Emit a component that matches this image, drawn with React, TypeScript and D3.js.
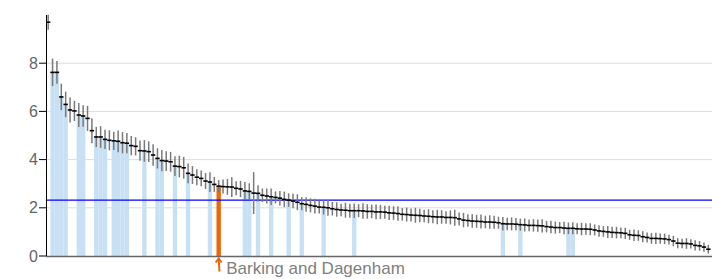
import * as d3 from 'd3'

// ranked rate per area
const values = [
  9.70,
  7.62, 7.62, 6.60, 6.29, 6.06, 6.02, 5.85, 5.81, 5.71, 5.20,
  4.94, 4.94, 4.84, 4.80, 4.78, 4.76, 4.70, 4.68, 4.58, 4.55,
  4.37, 4.36, 4.33, 4.19, 4.05, 3.96, 3.94, 3.91, 3.73, 3.71,
  3.66, 3.43, 3.36, 3.27, 3.22, 3.11, 3.07, 2.97, 2.90, 2.88,
  2.87, 2.86, 2.81, 2.78, 2.70, 2.68, 2.61, 2.60, 2.52, 2.49,
  2.46, 2.43, 2.40, 2.35, 2.32, 2.28, 2.23, 2.17, 2.14, 2.10,
  2.07, 2.03, 2.02, 2.00, 1.96, 1.93, 1.91, 1.90, 1.88, 1.88,
  1.88, 1.87, 1.85, 1.85, 1.83, 1.83, 1.82, 1.79, 1.78, 1.76,
  1.73, 1.72, 1.70, 1.69, 1.68, 1.66, 1.65, 1.63, 1.62, 1.62,
  1.60, 1.60, 1.59, 1.54, 1.49, 1.47, 1.45, 1.44, 1.43, 1.41,
  1.41, 1.40, 1.38, 1.34, 1.33, 1.33, 1.32, 1.30, 1.29, 1.27,
  1.27, 1.26, 1.25, 1.22, 1.20, 1.18, 1.18, 1.16, 1.15, 1.15,
  1.13, 1.12, 1.12, 1.11, 1.08, 1.04, 1.02, 1.00, 0.98, 0.97,
  0.96, 0.94, 0.88, 0.86, 0.85, 0.80, 0.77, 0.73, 0.73, 0.72,
  0.71, 0.68, 0.62, 0.53, 0.52, 0.52, 0.50, 0.44, 0.42, 0.37,
  0.28,
]

// half width of the confidence interval
const errors = [
  0.31,
  0.57, 0.47, 0.55, 0.53, 0.52, 0.42, 0.50, 0.45, 0.52, 0.52,
  0.42, 0.45, 0.40, 0.42, 0.38, 0.45, 0.44, 0.42, 0.40, 0.38,
  0.42, 0.45, 0.43, 0.45, 0.42, 0.44,
  0.41, 0.41, 0.41, 0.45, 0.45, 0.41, 0.37, 0.33, 0.33, 0.33,
  0.41, 0.31, 0.25, 0.29, 0.33, 0.41, 0.29, 0.34, 0.37, 0.34,
  0.87, 0.34, 0.28, 0.31, 0.34, 0.25,
  0.30, 0.32, 0.28, 0.30, 0.33, 0.27, 0.30, 0.29, 0.31, 0.27,
  0.30, 0.33, 0.28, 0.30, 0.26, 0.31, 0.29, 0.30, 0.27, 0.32,
  0.30, 0.28, 0.31, 0.29, 0.27, 0.30,
  0.28, 0.30, 0.26, 0.29, 0.27, 0.31, 0.28, 0.26, 0.29, 0.27,
  0.30, 0.28, 0.26, 0.29, 0.33, 0.27, 0.30, 0.26, 0.28, 0.27,
  0.29, 0.26, 0.28, 0.27, 0.25, 0.28, 0.26, 0.27,
  0.26, 0.25, 0.27, 0.24, 0.26, 0.25, 0.27, 0.24, 0.26, 0.25,
  0.23, 0.26, 0.24, 0.25, 0.23, 0.26, 0.24, 0.25, 0.23, 0.24,
  0.22, 0.25,
  0.23, 0.24, 0.22, 0.23, 0.21, 0.24, 0.22, 0.23, 0.21, 0.22,
  0.23, 0.21, 0.22, 0.20, 0.22, 0.21, 0.20, 0.22, 0.19, 0.21,
  0.20, 0.19, 0.18,
]

// London areas shown with a bar
const londonIdx = [1, 2, 3, 4, 7, 8, 11, 12, 13, 15, 16, 17, 18, 22, 25, 26, 29, 32, 37,
  45, 46, 48, 51, 55, 58, 63, 70, 104, 108, 119, 120]
const highlightIdx = 39
const highlightName = 'Barking and Dagenham'
const average = 2.32
const yTicks = [0, 2, 4, 6, 8]

const categories = values.map((_, i) => (i === highlightIdx ? highlightName : `area-${i}`))

const W = 712
const H = 279
const font = '"Liberation Sans", Arial, sans-serif'
const orange = '#ec6607'

export default function App() {
  const x = d3.scaleBand<string>().domain(categories).range([46, 710.5]).padding(0)
  const y = d3.scaleLinear().domain([0, 10]).range([256, 15])
  const bw = x.bandwidth()

  const barIdx = [...londonIdx, highlightIdx]

  return (
    <svg width={W} height={H} style={{ position: 'absolute', left: 0, top: 0 }} fontFamily={font}>
      {/* grid */}
      {yTicks.filter(t => t > 0).map(t => (
        <line key={t} x1={46} x2={W} y1={y(t)} y2={y(t)} stroke="#dddddd" strokeWidth={1} />
      ))}

      {/* bars */}
      {barIdx.map(i => (
        <rect key={i} x={x(categories[i])} y={y(values[i])} width={bw} height={y(0) - y(values[i])}
          fill={i === highlightIdx ? orange : '#c8e0f4'} />
      ))}

      {/* average line */}
      <line x1={46} x2={W} y1={y(average)} y2={y(average)} stroke="#0000ff" strokeWidth={1.2} />

      {/* confidence intervals */}
      {values.map((v, i) => {
        const cx = (x(categories[i]) as number) + bw / 2
        return (
          <line key={i} x1={cx} x2={cx} y1={y(v + errors[i])} y2={y(v - errors[i])}
            stroke="#7a7a7a" strokeWidth={1.5} />
        )
      })}

      {/* estimates */}
      {values.map((v, i) => {
        const x0 = x(categories[i]) as number
        return (
          <line key={i} x1={x0} x2={x0 + bw} y1={y(v)} y2={y(v)} stroke="#000" strokeWidth={1.6} />
        )
      })}

      {/* x axis */}
      <line x1={46} x2={W} y1={256.5} y2={256.5} stroke="#666" strokeWidth={1.5} />

      {/* y axis */}
      <line x1={46.5} x2={46.5} y1={15} y2={256} stroke="#000" strokeWidth={1} />
      {yTicks.map(t => (
        <g key={t} transform={`translate(0,${y(t)})`}>
          <line x1={39} x2={46} stroke="#000" strokeWidth={1} />
          <text x={38} dy="0.35em" textAnchor="end" fontSize={16} fill="#666">{t}</text>
        </g>
      ))}

      {/* annotation */}
      {(() => {
        const cx = (x(highlightName) as number) + bw / 2
        return (
          <g>
            <path d={`M${cx},258.5 L${cx + 0.8},271.5`} stroke={orange} strokeWidth={2} fill="none" />
            <path d={`M${cx - 3},262.5 L${cx},258.5 L${cx + 3},262.5`} stroke={orange} strokeWidth={2}
              fill="none" />
            <text x={cx + 7.5} y={274} fontSize={17} fill="#808080">{highlightName}</text>
          </g>
        )
      })()}
    </svg>
  )
}
